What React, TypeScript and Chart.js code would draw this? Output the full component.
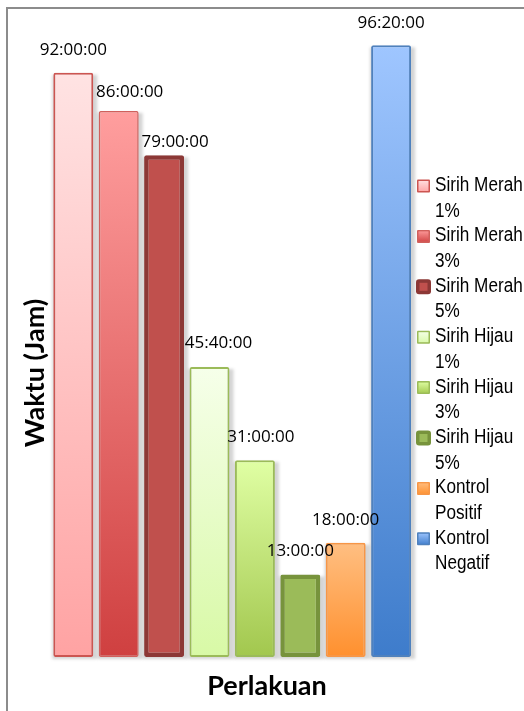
import React, { useEffect, useRef } from "react";
import { Chart, registerables } from "chart.js";

Chart.register(...registerables);

// Treatments (one series each) and the time recorded for each, in minutes
const seriesNames = [
  "Sirih Merah 1%",
  "Sirih Merah 3%",
  "Sirih Merah 5%",
  "Sirih Hijau 1%",
  "Sirih Hijau 3%",
  "Sirih Hijau 5%",
  "Kontrol Positif",
  "Kontrol Negatif",
];
const durationMinutes = [5520, 5160, 4740, 2740, 1860, 780, 1080, 5780];
const categories = [""];
const yAxisTitle = "Waktu (Jam)";
const xAxisTitle = "Perlakuan";

// Fill gradients (top -> bottom) and outlines for each series
const fillTop = ["#ffe3e3", "#ff9e9e", "#c0504d", "#f6ffea", "#e0ffa4", "#9bbb59", "#ffbf82", "#9fc6ff"];
const fillBottom = ["#ffa3a3", "#cf4040", "#c0504d", "#d8f9a6", "#a2c74e", "#9bbb59", "#ff902e", "#3e7ccb"];
const outline = ["#cc5551", "#d0605c", "#8c3836", "#9bbb59", "#9bbb59", "#77933c", "#f79646", "#4f81bd"];
const outlineWidth = [2, 1.5, 4.5, 2, 2, 4.5, 2, 2];

// Offsets of each value label from the centre-top of its bar
const labelDx = [0, 11, 11, 9, 6, 0, 0, 0];
const labelDy = [23, 19, 13, 24, 23, 23, 23, 22];

const hours = durationMinutes.map((m) => m / 60);

function formatDuration(min: number): string {
  const h = Math.floor(min / 60);
  const m = min % 60;
  return `${h}:${String(m).padStart(2, "0")}:00`;
}

const framePlugin = {
  id: "frame",
  beforeDraw(chart: any) {
    const c = chart.ctx;
    c.save();
    c.fillStyle = "#ffffff";
    c.fillRect(0, 0, chart.width, chart.height);
    c.strokeStyle = "#8c8c8c";
    c.lineWidth = 2;
    c.beginPath();
    c.moveTo(7, chart.height);
    c.lineTo(7, 8);
    c.lineTo(chart.width, 8);
    c.stroke();
    c.restore();
  },
};

const shadowPlugin = {
  id: "barShadow",
  beforeDatasetsDraw(chart: any) {
    const c = chart.ctx;
    c.save();
    c.filter = "blur(1.5px)";
    c.fillStyle = "rgba(0,0,0,0.17)";
    chart.data.datasets.forEach((_: any, i: number) => {
      const bar = chart.getDatasetMeta(i).data[0];
      if (!bar) return;
      const { x, y, base, width } = bar.getProps(["x", "y", "base", "width"], true);
      c.fillRect(x - width / 2 - 1, y + 2, width + 5, base - y);
    });
    c.restore();
  },
};

const LEGEND_SCALE_X = 0.88;

const textPlugin = {
  id: "texts",
  afterDatasetsDraw(chart: any) {
    const c = chart.ctx;
    c.save();
    // value labels
    c.fillStyle = "#000000";
    c.font = "17px 'Open Sans'";
    c.textAlign = "center";
    c.textBaseline = "middle";
    chart.data.datasets.forEach((_: any, i: number) => {
      const bar = chart.getDatasetMeta(i).data[0];
      if (!bar) return;
      const { x, y } = bar.getProps(["x", "y"], true);
      c.fillText(formatDuration(durationMinutes[i]), x + labelDx[i], y - labelDy[i]);
    });

    // axis titles
    c.font = "bold 27px Lato";
    c.fillText(xAxisTitle, 267, 686);
    c.save();
    c.translate(35, 373);
    c.rotate(-Math.PI / 2);
    c.fillText(yAxisTitle, 0, 0);
    c.restore();

    // legend
    const lx = 417;
    const tx = 435;
    const maxW = chart.width - tx;
    c.font = "19.5px 'Liberation Sans'";
    c.textAlign = "left";
    c.textBaseline = "alphabetic";
    let yy = 186;
    seriesNames.forEach((name, i) => {
      const words = name.split(" ");
      const lines: string[] = [];
      let cur = "";
      words.forEach((w) => {
        const test = cur ? cur + " " + w : w;
        if (cur && c.measureText(test).width * LEGEND_SCALE_X > maxW) {
          lines.push(cur);
          cur = w;
        } else cur = test;
      });
      if (cur) lines.push(cur);

      const thick = outlineWidth[i] > 3;
      const s = thick ? 15 : 13;
      const mx = lx + (thick ? -1 : 0);
      const my = yy - s / 2;
      const g = c.createLinearGradient(0, my, 0, my + s);
      g.addColorStop(0, fillTop[i]);
      g.addColorStop(1, fillBottom[i]);
      c.fillStyle = outline[i];
      c.beginPath();
      c.roundRect(mx, my, s, s, thick ? 3 : 1);
      c.fill();
      const bw = thick ? 3.5 : 1.5;
      c.fillStyle = g;
      c.fillRect(mx + bw, my + bw, s - 2 * bw, s - 2 * bw);

      c.fillStyle = "#000000";
      lines.forEach((ln, k) => {
        c.save();
        c.translate(tx, yy + 5 + k * 25.5);
        c.scale(LEGEND_SCALE_X, 1);
        c.fillText(ln, 0, 0);
        c.restore();
      });
      yy += 50.4;
    });
    c.restore();
  },
};

export default function App() {
  const ref = useRef<HTMLCanvasElement | null>(null);

  useEffect(() => {
    if (!ref.current) return;
    const chart = new Chart(ref.current, {
      type: "bar",
      data: {
        labels: categories,
        datasets: seriesNames.map((name, i) => ({
          label: name,
          data: [hours[i]],
          backgroundColor: (ctx: any) => {
            const ch = ctx.chart;
            if (!ch.chartArea) return fillBottom[i];
            const y = ch.scales.y;
            const top = y.getPixelForValue(hours[i]);
            const bottom = y.getPixelForValue(0);
            const g = ch.ctx.createLinearGradient(0, top, 0, bottom);
            g.addColorStop(0, fillTop[i]);
            g.addColorStop(1, fillBottom[i]);
            return g;
          },
          borderColor: outline[i],
          borderWidth: outlineWidth[i],
          borderRadius: 2,
          borderSkipped: false,
          barPercentage: 0.88,
          categoryPercentage: 1,
        })),
      },
      options: {
        animation: false,
        responsive: false,
        maintainAspectRatio: false,
        layout: { padding: { left: 50.6, right: 110.2, top: 22, bottom: 54 } },
        plugins: {
          legend: { display: false },
          tooltip: { enabled: false },
          title: { display: false },
        },
        scales: {
          x: { display: false },
          y: { display: false, min: 0, max: 100 },
        },
      },
      plugins: [framePlugin, shadowPlugin, textPlugin],
    });
    return () => chart.destroy();
  }, []);

  return (
    <div style={{ position: "fixed", left: 0, top: 0, width: 524, height: 711, background: "#fff" }}>
      <canvas ref={ref} width={524} height={711} style={{ width: 524, height: 711, display: "block" }} />
    </div>
  );
}
